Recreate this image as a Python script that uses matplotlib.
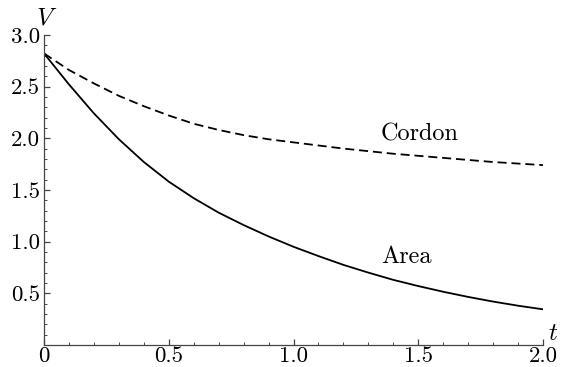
import matplotlib
matplotlib.use("Agg")
import matplotlib.pyplot as plt
from matplotlib.ticker import MultipleLocator, FixedLocator

# Schriftart wie im Original (Computer Modern)
plt.rcParams['font.family'] = 'cmr10'
plt.rcParams['mathtext.fontset'] = 'cm'
plt.rcParams['axes.unicode_minus'] = False

# Daten
t = [0.0, 0.1, 0.2, 0.3, 0.4, 0.5, 0.6, 0.7, 0.8, 0.9, 1.0,
     1.1, 1.2, 1.3, 1.4, 1.5, 1.6, 1.7, 1.8, 1.9, 2.0]
v_area = [2.82, 2.52, 2.24, 1.99, 1.77, 1.58, 1.42, 1.28, 1.16, 1.05, 0.95,
          0.86, 0.775, 0.70, 0.63, 0.57, 0.515, 0.465, 0.42, 0.38, 0.345]
v_cordon = [2.82, 2.66, 2.53, 2.41, 2.31, 2.22, 2.14, 2.08, 2.03, 1.99, 1.96,
            1.93, 1.90, 1.875, 1.85, 1.83, 1.81, 1.79, 1.77, 1.755, 1.74]

x_ticks = [0, 0.5, 1.0, 1.5, 2.0]
x_labels = ["0", "0.5", "1.0", "1.5", "2.0"]
y_ticks = [0.5, 1.0, 1.5, 2.0, 2.5, 3.0]
y_labels = ["0.5", "1.0", "1.5", "2.0", "2.5", "3.0"]

fig = plt.figure(figsize=(5.65, 3.67), dpi=100)
ax = fig.add_axes([0.078, 0.060, 0.883, 0.845])

ax.plot(t, v_area, color="black", lw=1.3)
ax.plot(t, v_cordon, color="black", lw=1.3, linestyle=(0, (5, 2.7)))

ax.set_xlim(0, 2.0)
ax.set_ylim(0, 3.0)

# Achsen im Mathematica-Stil
for s in ["top", "right"]:
    ax.spines[s].set_visible(False)
for s in ["left", "bottom"]:
    ax.spines[s].set_color("#444444")
    ax.spines[s].set_linewidth(0.9)

ax.xaxis.set_major_locator(FixedLocator(x_ticks))
ax.set_xticklabels(x_labels)
ax.yaxis.set_major_locator(FixedLocator(y_ticks))
ax.set_yticklabels(y_labels)
ax.xaxis.set_minor_locator(MultipleLocator(0.1))
ax.yaxis.set_minor_locator(MultipleLocator(0.1))
ax.tick_params(which="both", direction="in", color="#444444", labelsize=16.5)
ax.tick_params(which="major", length=4, width=0.9)
ax.tick_params(which="minor", length=2.2, width=0.7)
ax.tick_params(axis="x", pad=1)
ax.tick_params(axis="y", pad=3)

# Achsenbeschriftungen
ax.text(0.01, 3.05, r"$V$", fontsize=18, ha="center", va="bottom", clip_on=False)
ax.text(2.02, 0.0, r"$t$", fontsize=18, ha="left", va="bottom", clip_on=False)

# Kurvennamen
ax.text(1.35, 1.98, "Cordon", fontsize=17.5)
ax.text(1.35, 0.79, "Area", fontsize=17.5)

fig.savefig("out.png", dpi=100)
